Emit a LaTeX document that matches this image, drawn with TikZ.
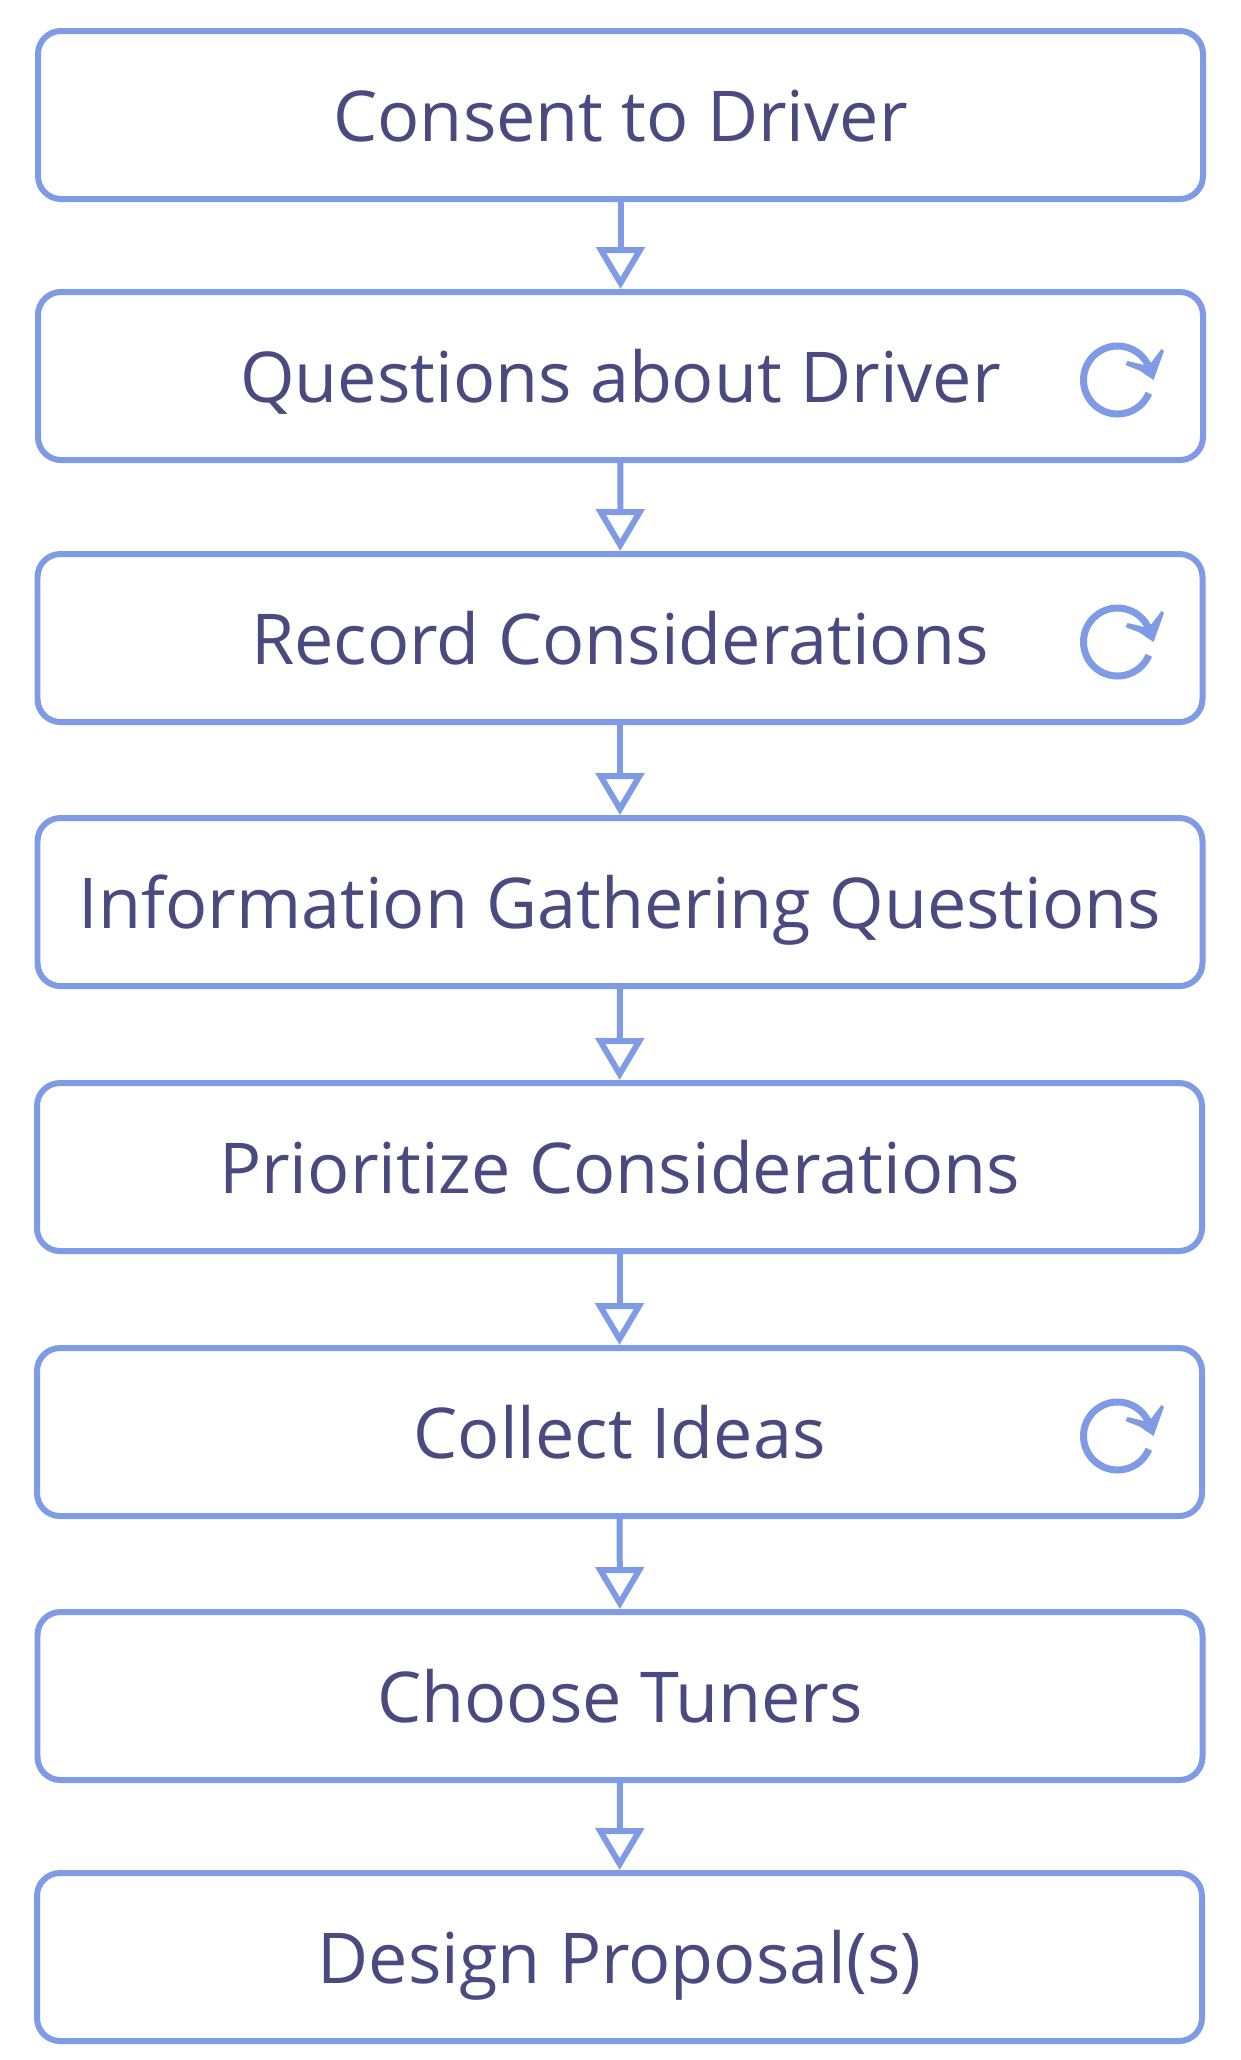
\documentclass[tikz,border=0pt]{standalone}
\usepackage{fontspec}
\setmainfont{Open Sans}
\definecolor{stepline}{RGB}{127,155,230}
\definecolor{steptext}{RGB}{74,74,128}
\usetikzlibrary{arrows.meta,positioning}
\tikzset{
  stepbox/.style={draw=stepline,line width=0.06cm,rounded corners=0.23cm,fill=white,inner sep=0pt,
    minimum width=11.65cm,minimum height=1.68cm,text height=0.72cm,text depth=0.20cm,
    text=steptext,font=\fontsize{19.95pt}{24pt}\selectfont},
  steparrow/.style={stepline,line width=0.06cm,-{Triangle[open,fill=white,length=0.42cm,width=0.48cm]}},
  loopicon/.pic={
    \draw[stepline,line width=0.07cm] (-23:0.34) arc[start angle=-23,end angle=-340,radius=0.34];
    \fill[stepline] (0.36,0) -- (0.22,0.095) -- (0.08,0.15) -- (0.10,0.19) -- (0.31,0.14) -- (0.44,0.31) -- (0.465,0.29) -- cycle;
  }
}
\begin{document}
\begin{tikzpicture}
\useasboundingbox (0,0) rectangle (12.4,-20.6);
\node[stepbox] (consent) at (6.205,-1.15) {Consent to Driver};
\node[stepbox] (questions) at (6.205,-3.76) {Questions about Driver};
\node[stepbox] (record) at (6.20,-6.38) {Record Considerations};
\node[stepbox] (gathering) at (6.20,-9.02) {Information Gathering Questions};
\node[stepbox] (prioritize) at (6.195,-11.67) {Prioritize Considerations};
\node[stepbox] (ideas) at (6.195,-14.32) {Collect Ideas};
\node[stepbox] (tuners) at (6.20,-16.96) {Choose Tuners};
\node[stepbox] (proposal) at (6.195,-19.57) {Design Proposal(s)};
\draw[steparrow] (consent) -- (questions);
\draw[steparrow] (questions) -- (record);
\draw[steparrow] (record) -- (gathering);
\draw[steparrow] (gathering) -- (prioritize);
\draw[steparrow] (prioritize) -- (ideas);
\draw[steparrow] (ideas) -- (tuners);
\draw[steparrow] (tuners) -- (proposal);
\pic at ([xshift=-0.885cm,yshift=-0.04cm]questions.east) {loopicon};
\pic at ([xshift=-0.88cm,yshift=-0.04cm]record.east) {loopicon};
\pic at ([xshift=-0.875cm,yshift=-0.04cm]ideas.east) {loopicon};
\end{tikzpicture}
\end{document}
